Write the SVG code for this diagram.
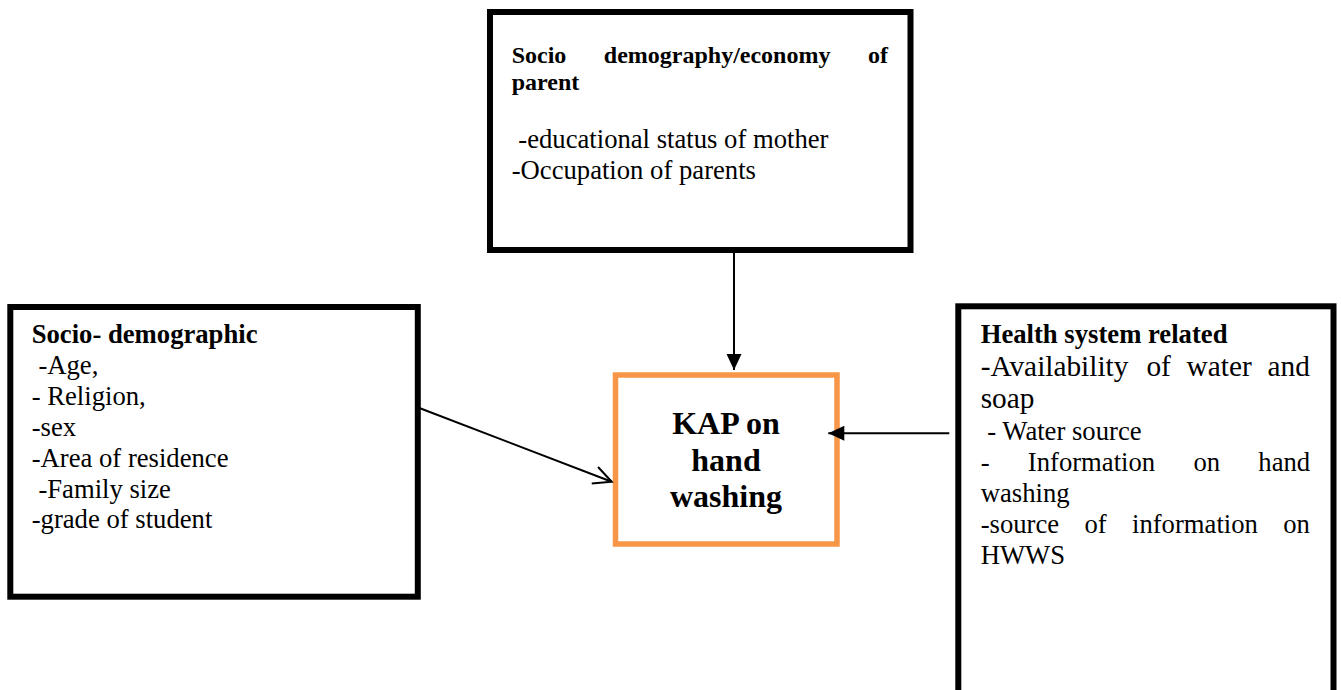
<svg xmlns="http://www.w3.org/2000/svg" width="1341" height="690" viewBox="0 0 1341 690">
<style>
  .box{fill:#fff;stroke:#000;stroke-width:6}
  .kap{fill:#fff;stroke:#F79646;stroke-width:5.5}
  text{font-family:"Liberation Serif","Times New Roman",serif;fill:#000}
  .t{font-size:26.67px}
  .b{font-size:26.67px;font-weight:bold}
  .hb{font-size:24px;font-weight:bold}
  .big{font-size:29.33px}
  .kt{font-size:32px;font-weight:bold;text-anchor:middle}
  .conn{stroke:#000;stroke-width:2;fill:none}
</style>
<defs>
  <marker id="filled" markerUnits="userSpaceOnUse" markerWidth="16" markerHeight="15" refX="16" refY="7.5" orient="auto" overflow="visible">
    <path d="M0,0 L16,7.5 L0,15 Z" fill="#000"/>
  </marker>
  <marker id="open" markerUnits="userSpaceOnUse" markerWidth="20" markerHeight="20" refX="18" refY="8.8" orient="auto" overflow="visible">
    <path d="M0,0 L18,8.8 L0,17.6" fill="none" stroke="#000" stroke-width="2"/>
  </marker>
</defs>
<rect width="1341" height="690" fill="#fff"/>

<g id="parent-node">
  <rect class="box" x="490" y="12" width="420.5" height="238"/>
  <text class="hb" y="63"><tspan x="511.7">Socio</tspan><tspan x="603.8">demography/economy</tspan><tspan x="868">of</tspan></text>
  <text class="hb" x="511.7" y="90">parent</text>
  <text class="t" x="518.3" y="148">-educational status of mother</text>
  <text class="t" x="511.7" y="179">-Occupation of parents</text>
</g>

<g id="sociodemographic-node">
  <rect class="box" x="10.3" y="307" width="407.5" height="289.7"/>
  <text class="b" x="31.7" y="343">Socio- demographic</text>
  <text class="t" x="38.4" y="374">-Age,</text>
  <text class="t" x="31.7" y="405">- Religion,</text>
  <text class="t" x="31.7" y="436">-sex</text>
  <text class="t" x="31.7" y="466.7">-Area of residence</text>
  <text class="t" x="38.4" y="497.5">-Family size</text>
  <text class="t" x="31.7" y="528">-grade of student</text>
</g>

<g id="health-node">
  <rect class="box" x="958.3" y="306.3" width="375.2" height="400"/>
  <text class="b" x="980.7" y="343.3">Health system related</text>
  <text class="big" y="375.5"><tspan x="980.7">-Availability</tspan><tspan x="1146.4">of</tspan><tspan x="1186.6">water</tspan><tspan x="1267.6">and</tspan></text>
  <text class="big" x="980.7" y="408.3">soap</text>
  <text class="t" x="987.3" y="440">- Water source</text>
  <text class="t" y="471"><tspan x="980.7">-</tspan><tspan x="1027.8">Information</tspan><tspan x="1193.4">on</tspan><tspan x="1258.3">hand</tspan></text>
  <text class="t" x="980.7" y="502">washing</text>
  <text class="t" y="533"><tspan x="980.7">-source</tspan><tspan x="1084.5">of</tspan><tspan x="1132">information</tspan><tspan x="1283.2">on</tspan></text>
  <text class="t" x="980.7" y="564">HWWS</text>
</g>

<g id="kap-node">
  <rect class="kap" x="615.5" y="375" width="221.5" height="169"/>
  <text class="kt" x="726" y="434">KAP on</text>
  <text class="kt" x="726" y="470.5">hand</text>
  <text class="kt" x="726" y="507">washing</text>
</g>

<g id="connectors">
  <line class="conn" x1="734" y1="253" x2="734" y2="370" marker-end="url(#filled)"/>
  <line class="conn" x1="420" y1="408.3" x2="611.7" y2="481.7" marker-end="url(#open)"/>
  <line class="conn" x1="949.3" y1="433.3" x2="828.3" y2="433.3" marker-end="url(#filled)"/>
</g>
</svg>
